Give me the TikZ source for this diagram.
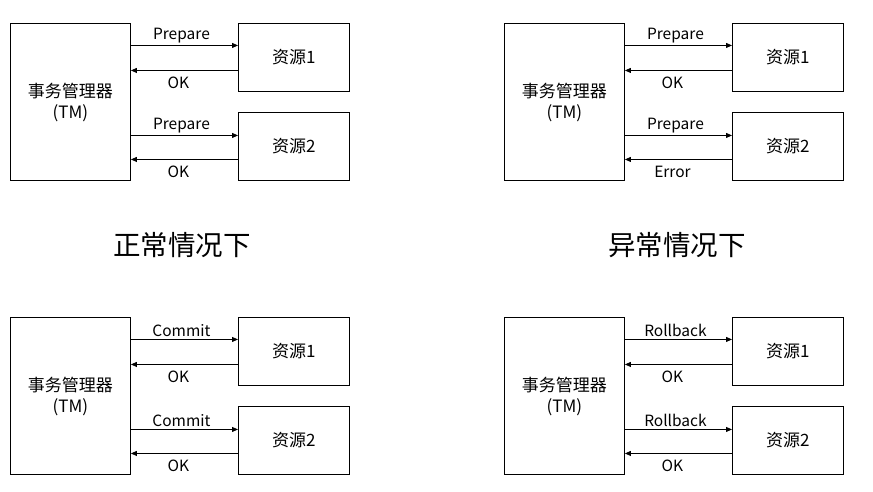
\documentclass[tikz,border=0pt]{standalone}
\usepackage{fontspec}
\setmainfont{Noto Sans CJK SC}
\usetikzlibrary{arrows.meta}
\tikzset{
  box/.style={draw=black, line width=0.9pt, inner sep=0pt, anchor=north west},
  arr/.style={line width=0.8pt, -{Triangle[length=6pt,width=5pt]}},
  lbl/.style={font=\fontsize{15.5}{17}\selectfont, inner sep=2pt},
  boxtext/.style={font=\fontsize{17}{21}\selectfont, align=center},
  title/.style={font=\fontsize{27.5}{30}\selectfont}
}
\newcommand\panel[7]{%
  % #1 prefix, #2 x, #3 y, #4 msg1, #5 msg2, #6 ret1, #7 ret2
  \node[box, minimum width=120pt, minimum height=157pt] (#1tm) at (#2+10, #3+23) {};
  \node[boxtext] (#1tmt) at ([yshift=-1pt]#1tm.center) {事务管理器\\(TM)};
  \node[box, minimum width=111pt, minimum height=68pt] (#1ra) at (#2+238, #3+23) {};
  \node[boxtext] (#1rat) at (#1ra.center) {资源1};
  \node[box, minimum width=111pt, minimum height=68pt] (#1rb) at (#2+238, #3+112) {};
  \node[boxtext] (#1rbt) at (#1rb.center) {资源2};
  \coordinate (#1a1) at ([yshift=12pt]#1ra.west);
  \coordinate (#1a2) at ([yshift=-13pt]#1ra.west);
  \coordinate (#1b1) at ([yshift=11pt]#1rb.west);
  \coordinate (#1b2) at ([yshift=-13pt]#1rb.west);
  \draw[arr] (#1tm.east |- #1a1) -- node[lbl, above, xshift=-3pt] {#4} (#1a1);
  \draw[arr] (#1a2) -- node[lbl, below, xshift=-6pt, yshift=-4pt] {#6} (#1tm.east |- #1a2);
  \draw[arr] (#1tm.east |- #1b1) -- node[lbl, above, xshift=-3pt] {#5} (#1b1);
  \draw[arr] (#1b2) -- node[lbl, below, xshift=-6pt, yshift=-4pt] {#7} (#1tm.east |- #1b2);
}
\begin{document}
\begin{tikzpicture}[x=1pt, y=-1pt]
  \useasboundingbox (0,0) rectangle (873,491);
  \panel{nt}{0}{0}{Prepare}{Prepare}{OK}{OK}
  \panel{et}{494}{0}{Prepare}{Prepare}{OK}{Error}
  \panel{nb}{0}{294}{Commit}{Commit}{OK}{OK}
  \panel{eb}{494}{294}{Rollback}{Rollback}{OK}{OK}
  \node[title] (tn) at (182,245) {正常情况下};
  \node[title] (te) at (677,245) {异常情况下};
\end{tikzpicture}
\end{document}
